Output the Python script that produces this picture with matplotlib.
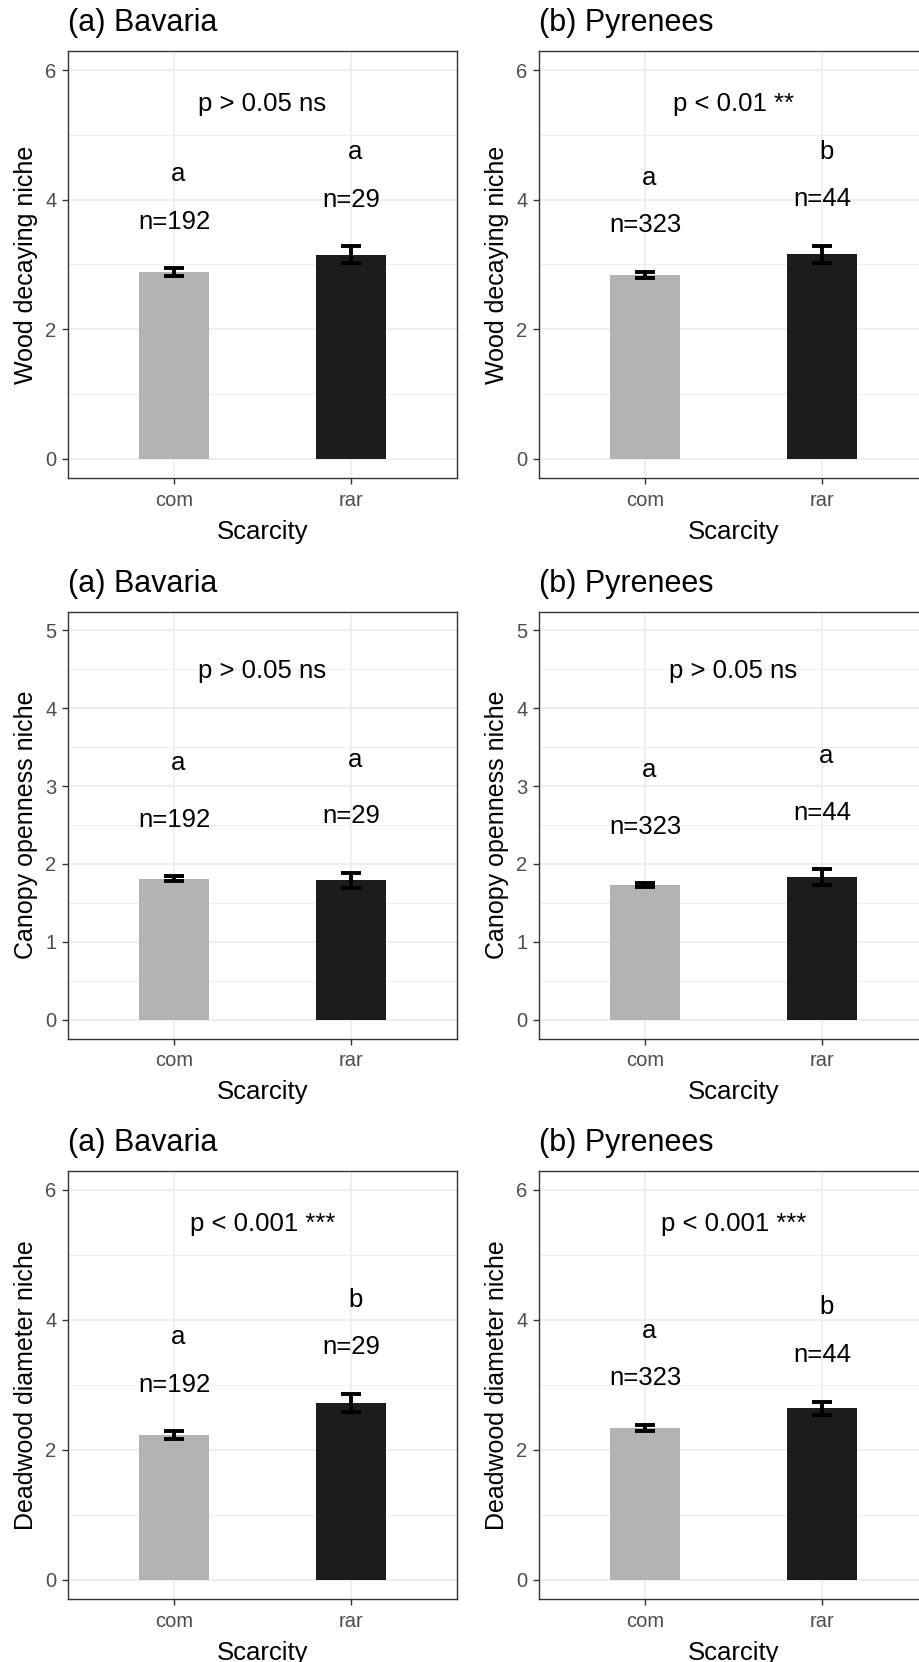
import matplotlib
matplotlib.use("Agg")
import matplotlib.pyplot as plt
import numpy as np

plt.rcParams['font.family'] = ['Liberation Sans', 'DejaVu Sans']

# data
categories = ["com", "rar"]
regions = ["(a) Bavaria", "(b) Pyrenees"]
ylabels = ["Wood decaying niche", "Canopy openness niche", "Deadwood diameter niche"]

n_bavaria = [192, 29]
n_pyrenees = [323, 44]

wood_bavaria = [2.88, 3.15]
wood_bavaria_se = [0.06, 0.13]
wood_pyrenees = [2.84, 3.16]
wood_pyrenees_se = [0.05, 0.13]

canopy_bavaria = [1.81, 1.79]
canopy_bavaria_se = [0.03, 0.10]
canopy_pyrenees = [1.73, 1.83]
canopy_pyrenees_se = [0.03, 0.10]

dead_bavaria = [2.22, 2.72]
dead_bavaria_se = [0.06, 0.14]
dead_pyrenees = [2.33, 2.64]
dead_pyrenees_se = [0.05, 0.10]

letters_wood = [["a", "a"], ["a", "b"]]
letters_canopy = [["a", "a"], ["a", "a"]]
letters_dead = [["a", "b"], ["a", "b"]]

p_wood = ["p > 0.05 ns", "p < 0.01 **"]
p_canopy = ["p > 0.05 ns", "p > 0.05 ns"]
p_dead = ["p < 0.001 ***", "p < 0.001 ***"]

bar_colors = ["#B3B3B3", "#1C1C1C"]

means = [[wood_bavaria, wood_pyrenees], [canopy_bavaria, canopy_pyrenees], [dead_bavaria, dead_pyrenees]]
ses = [[wood_bavaria_se, wood_pyrenees_se], [canopy_bavaria_se, canopy_pyrenees_se], [dead_bavaria_se, dead_pyrenees_se]]
letters = [letters_wood, letters_canopy, letters_dead]
pvals = [p_wood, p_canopy, p_dead]
ns = [n_bavaria, n_pyrenees]

# layout (pixels) - right column runs off the canvas like the original
W, H = 920, 1662
col_left = [68, 539]
axw = 389
row_top = [50.7, 611.5, 1170.5]
row_bot = [478.3, 1038.5, 1599]
ylims = [(-0.3, 6.3), (-0.24, 5.24), (-0.3, 6.3)]
ytop = [6, 5, 6]

fig = plt.figure(figsize=(W / 100, H / 100), dpi=100)

for r in range(3):
    for c in range(2):
        ax = fig.add_axes([col_left[c] / W, 1 - row_bot[r] / H, axw / W, (row_bot[r] - row_top[r]) / H])
        x = np.arange(1, 3)
        m = means[r][c]
        s = ses[r][c]
        ax.bar(x, m, width=0.4, color=bar_colors, zorder=2)
        ax.errorbar(x, m, yerr=s, fmt='none', ecolor='black', elinewidth=2.8,
                    capsize=7, capthick=2.8, zorder=3)
        for xi, mi, si, n, let in zip(x, m, s, ns[c], letters[r][c]):
            yn = mi + si + 0.72
            ax.text(xi, yn, f"n={n}", ha='center', va='center', fontsize=18.5)
            ax.text(xi + 0.025, yn + 0.73, let, ha='center', va='center', fontsize=18.5)
        ax.text(1.5, ytop[r] - 0.52, pvals[r][c], ha='center', va='center', fontsize=18.5)

        ax.set_xlim(0.4, 2.6)
        ax.set_ylim(*ylims[r])
        ax.set_xticks(x, categories)
        if ytop[r] == 6:
            ax.set_yticks([0, 2, 4, 6])
            ax.set_yticks([1, 3, 5], minor=True)
        else:
            ax.set_yticks([0, 1, 2, 3, 4, 5])
            ax.set_yticks(np.arange(0.5, 5, 1), minor=True)
        ax.grid(which='major', color='#EBEBEB', lw=1.1)
        ax.grid(which='minor', axis='y', color='#EBEBEB', lw=0.6)
        ax.set_axisbelow(True)
        ax.tick_params(which='minor', length=0)
        ax.tick_params(axis='both', which='major', length=4.3, width=1.0, color='#333333',
                       labelcolor='#4D4D4D', labelsize=14.5)
        ax.tick_params(axis='y', pad=4)
        ax.tick_params(axis='x', pad=5)
        for sp in ax.spines.values():
            sp.set_color('#333333')
            sp.set_linewidth(1.0)

        ax.set_ylabel(ylabels[r], fontsize=18)
        ax.yaxis.set_label_coords(-0.078, 0.5)
        ax.set_xlabel("Scarcity", fontsize=18.5, labelpad=7)
        ax.set_title(regions[c], loc='left', fontsize=22, pad=14)

fig.savefig("out.png", dpi=100)
